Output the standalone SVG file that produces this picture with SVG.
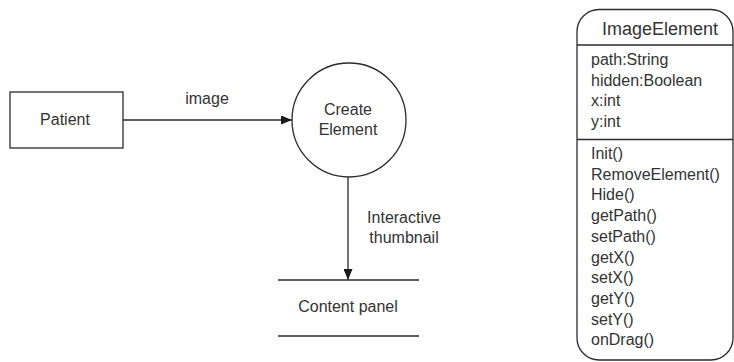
<svg xmlns="http://www.w3.org/2000/svg" width="734" height="362" viewBox="0 0 734 362">
<defs>
<style>
.s{fill:none;stroke:#2b2b2b;stroke-width:1.3}
.w{fill:#fff;stroke:#2b2b2b;stroke-width:1.3}
text{font-family:"Liberation Sans",Arial,sans-serif;font-size:16px;fill:#333}
.c{text-anchor:middle}
.h{font-size:18px}
</style>
<marker id="ah" markerWidth="11" markerHeight="9" refX="11" refY="4.5" orient="auto" markerUnits="userSpaceOnUse">
<path d="M0,0 L11,4.5 L0,9 Z" fill="#1a1a1a"/>
</marker>
</defs>
<rect width="734" height="362" fill="#fff"/>
<g id="connectors">
<line class="s" x1="123" y1="120" x2="292" y2="120" marker-end="url(#ah)"/>
<text class="c" x="207" y="104">image</text>
<line class="s" x1="348" y1="177" x2="348" y2="280" marker-end="url(#ah)"/>
<text class="c" x="404" y="222.5">Interactive</text>
<text class="c" x="404" y="242.5">thumbnail</text>
</g>
<g id="patient">
<rect class="w" x="10" y="92" width="113" height="56"/>
<text class="c" x="65" y="125">Patient</text>
</g>
<g id="create-element">
<circle class="w" cx="349" cy="120" r="57"/>
<text class="c" x="348" y="115">Create</text>
<text class="c" x="348" y="135">Element</text>
</g>
<g id="content-panel">
<line class="s" x1="278" y1="280" x2="419" y2="280"/>
<line class="s" x1="278" y1="336" x2="419" y2="336"/>
<text class="c" x="348" y="312">Content panel</text>
</g>
<g id="image-element">
<rect class="w" x="577" y="9.5" width="156" height="350.5" rx="22" ry="22"/>
<line class="s" x1="577" y1="45" x2="733" y2="45"/>
<line class="s" x1="577" y1="139.5" x2="733" y2="139.5"/>
<text class="c h" x="660" y="35">ImageElement</text>
<text x="591" y="65">path:String</text>
<text x="591" y="85.7">hidden:Boolean</text>
<text x="591" y="106.4">x:int</text>
<text x="591" y="127">y:int</text>
<text x="591" y="159">Init()</text>
<text x="591" y="179.7">RemoveElement()</text>
<text x="591" y="200.4">Hide()</text>
<text x="591" y="221.1">getPath()</text>
<text x="591" y="241.8">setPath()</text>
<text x="591" y="262.5">getX()</text>
<text x="591" y="283.2">setX()</text>
<text x="591" y="303.9">getY()</text>
<text x="591" y="324.6">setY()</text>
<text x="591" y="345.3">onDrag()</text>
</g>
</svg>
